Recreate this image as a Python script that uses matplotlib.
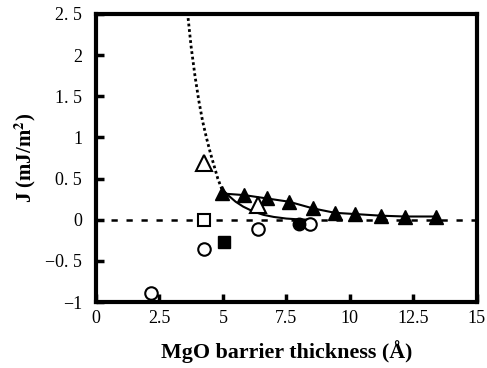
import matplotlib
matplotlib.use("Agg")
import matplotlib.pyplot as plt

# Data (MgO thickness in Angstrom, J in mJ/m^2)
filled_tri_x = [4.95, 5.84, 6.72, 7.60, 8.53, 9.41, 10.2, 11.22, 12.17, 13.4]
filled_tri_y = [0.32, 0.30, 0.26, 0.22, 0.14, 0.085, 0.07, 0.05, 0.04, 0.04]
open_tri_x = [4.26, 6.37]
open_tri_y = [0.685, 0.18]
open_sq_x = [4.26]
open_sq_y = [0.0]
filled_sq_x = [5.05]
filled_sq_y = [-0.27]
open_circ_x = [2.17, 4.26, 6.37, 8.45]
open_circ_y = [-0.89, -0.35, -0.11, -0.05]
filled_circ_x = [7.99]
filled_circ_y = [-0.05]

# Fit curve: dotted part and solid part
dot_curve_x = [3.63, 3.75, 3.90, 4.05, 4.20, 4.35, 4.50, 4.65, 4.80, 4.95]
dot_curve_y = [2.45, 2.10, 1.75, 1.45, 1.20, 1.00, 0.82, 0.66, 0.50, 0.38]
sol_curve_x = [4.95, 5.2, 5.5, 5.8, 6.2, 6.6, 7.0, 7.5, 8.0, 8.5]
sol_curve_y = [0.38, 0.30, 0.22, 0.16, 0.10, 0.06, 0.035, 0.015, 0.005, 0.0]

xticks = [0, 2.5, 5, 7.5, 10, 12.5, 15]
xtick_labels = ["0", "2.5", "5", "7.5", "10", "12.5", "15"]
yticks = [-1, -0.5, 0, 0.5, 1, 1.5, 2, 2.5]
ytick_labels = ["\u22121", "\u22120. 5", "0", "0. 5", "1", "1. 5", "2", "2. 5"]

plt.rcParams['font.family'] = ['Liberation Serif', 'DejaVu Serif']
plt.rcParams['mathtext.fontset'] = 'stix'

fig = plt.figure(figsize=(4.87, 3.68), dpi=100)
ax = fig.add_axes([0.197, 0.179, 0.782, 0.783])

ax.plot([0, 15], [0, 0], color='black', lw=1.8, linestyle=(0, (2.5, 3.5)), zorder=1)
ax.plot(dot_curve_x, dot_curve_y, color='black', lw=2.0, linestyle=(0, (1.0, 1.0)), zorder=2)
ax.plot(sol_curve_x, sol_curve_y, color='black', lw=1.5, zorder=2)
ax.plot(filled_tri_x, filled_tri_y, color='black', lw=1.5, zorder=2)

ax.plot(filled_tri_x, filled_tri_y, '^', color='black', ms=10.5, ls='none', zorder=3)
ax.plot(open_tri_x, open_tri_y, '^', mfc='white', mec='black', mew=1.5, ms=11, ls='none', zorder=3)
ax.plot(open_sq_x, open_sq_y, 's', mfc='white', mec='black', mew=1.5, ms=9, ls='none', zorder=3)
ax.plot(filled_sq_x, filled_sq_y, 's', color='black', ms=9, ls='none', zorder=3)
ax.plot(open_circ_x, open_circ_y, 'o', mfc='white', mec='black', mew=1.5, ms=9, ls='none', zorder=3)
ax.plot(filled_circ_x, filled_circ_y, 'o', color='black', ms=9, ls='none', zorder=3)

ax.set_xlim(0, 15)
ax.set_ylim(-1, 2.5)
ax.set_xticks(xticks)
ax.set_xticklabels(xtick_labels)
ax.set_yticks(yticks)
ax.set_yticklabels(ytick_labels)
ax.tick_params(direction='in', length=6, width=2.5, labelsize=13, top=False, right=False)
ax.tick_params(axis='x', pad=6)
ax.tick_params(axis='y', pad=10)

for s in ax.spines.values():
    s.set_linewidth(3)

ax.set_xlabel("MgO barrier thickness (\u00c5)", fontsize=15.8, fontweight='bold', labelpad=9)
ax.set_ylabel("J (mJ/m$^\\mathbf{2}$)", fontsize=15, fontweight='bold', labelpad=5)

fig.savefig("out.png", dpi=100)
